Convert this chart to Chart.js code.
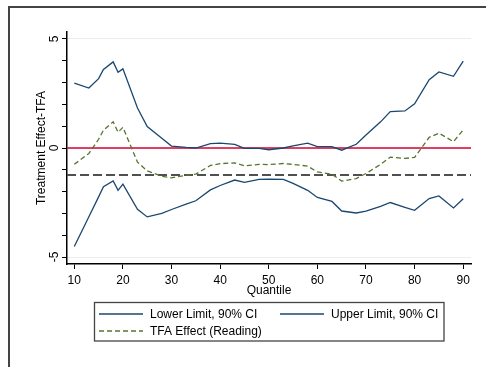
<!DOCTYPE html>
<html>
<head>
<meta charset="utf-8">
<script src="https://cdn.jsdelivr.net/npm/chart.js@4/dist/chart.umd.min.js"></script>
<style>
  html, body { margin: 0; padding: 0; background: #fff; overflow: hidden; }
  canvas { display: block; }
</style>
</head>
<body>
<canvas id="chart" width="486" height="367"></canvas>
<script>
// Data
const quantiles = [10, 13, 15, 16, 18, 19, 20, 23, 25, 28, 30, 33, 35, 38, 40, 43, 45, 48, 50, 53, 55, 58, 60, 63, 65, 68, 70, 73, 75, 78, 80, 83, 85, 88, 90];
const lowerLimit = [-4.52, -3.15, -2.24, -1.78, -1.51, -1.94, -1.66, -2.81, -3.16, -3.0, -2.82, -2.57, -2.42, -1.92, -1.72, -1.47, -1.58, -1.44, -1.43, -1.44, -1.62, -1.94, -2.27, -2.45, -2.89, -2.98, -2.9, -2.68, -2.5, -2.72, -2.86, -2.32, -2.2, -2.75, -2.33];
const upperLimit = [2.98, 2.75, 3.18, 3.6, 3.95, 3.47, 3.63, 1.83, 0.98, 0.45, 0.09, 0.03, 0.0, 0.2, 0.22, 0.17, -0.02, -0.02, -0.08, 0.0, 0.1, 0.22, 0.06, 0.06, -0.1, 0.17, 0.6, 1.2, 1.67, 1.7, 2.03, 3.13, 3.49, 3.29, 3.98];
const tfaEffect = [-0.75, -0.25, 0.4, 0.82, 1.2, 0.72, 0.95, -0.65, -1.05, -1.3, -1.37, -1.25, -1.2, -0.8, -0.72, -0.68, -0.82, -0.75, -0.76, -0.71, -0.75, -0.83, -1.1, -1.2, -1.52, -1.4, -1.17, -0.75, -0.42, -0.48, -0.43, 0.49, 0.68, 0.29, 0.83];
const zeroLine = 0;
const meanEffect = -1.24;
const seriesLabels = ["Lower Limit, 90% CI", "Upper Limit, 90% CI", "TFA Effect (Reading)"];
const xTicks = [10, 20, 30, 40, 50, 60, 70, 80, 90];
const yTicks = [-5, -4, -3, -2, -1, 0, 1, 2, 3, 4, 5];
const yTickLabels = [-5, 0, 5];

const xMin = 8.5, xMax = 91.6;
const yMin = -5.32, yMax = 5.32;

const navy = "#1a476f";
const green = "#55752f";
const font = { family: "'Liberation Sans', Arial, sans-serif", size: 12 };

function toPoints(values) {
  return quantiles.map((q, i) => ({ x: q, y: values[i] }));
}

// Stata-like frame (cropped at right and bottom) and legend box
const framePlugin = {
  id: "frame",
  beforeDraw(chart) {
    const ctx = chart.ctx;
    ctx.save();
    ctx.fillStyle = "#fff";
    ctx.fillRect(0, 0, chart.width, chart.height);
    ctx.strokeStyle = "#444";
    ctx.lineWidth = 2;
    ctx.beginPath();
    ctx.moveTo(9, chart.height);
    ctx.lineTo(9, 7);
    ctx.lineTo(chart.width, 7);
    ctx.stroke();
    ctx.restore();
  },
  afterDraw(chart) {
    const ctx = chart.ctx;
    const ds = chart.data.datasets;
    ctx.save();
    ctx.strokeStyle = "#444";
    ctx.lineWidth = 1.3;
    ctx.strokeRect(94.5, 302.5, 349.5, 38.5);
    const items = [
      { d: ds[0], x: 99, y: 314 },
      { d: ds[1], x: 280, y: 314 },
      { d: ds[2], x: 99, y: 331 },
    ];
    ctx.font = font.size + "px " + font.family;
    ctx.textBaseline = "middle";
    ctx.fillStyle = "#000";
    items.forEach((it) => {
      ctx.beginPath();
      ctx.setLineDash(it.d.borderDash || []);
      ctx.strokeStyle = it.d.borderColor;
      ctx.lineWidth = it.d.borderWidth;
      ctx.moveTo(it.x, it.y);
      ctx.lineTo(it.x + 44, it.y);
      ctx.stroke();
      ctx.setLineDash([]);
      ctx.fillText(it.d.label, it.x + 51, it.y + 0.5);
    });
    ctx.restore();
  },
};

new Chart(document.getElementById("chart"), {
  type: "line",
  data: {
    datasets: [
      { label: seriesLabels[0], data: toPoints(lowerLimit), borderColor: navy, borderWidth: 1.3 },
      { label: seriesLabels[1], data: toPoints(upperLimit), borderColor: navy, borderWidth: 1.3 },
      { label: seriesLabels[2], data: toPoints(tfaEffect), borderColor: green, borderWidth: 1.3, borderDash: [5, 3] },
      { label: "zero", data: [{ x: xMin, y: zeroLine }, { x: xMax, y: zeroLine }], borderColor: "#dc0032", borderWidth: 1.3 },
      { label: "mean", data: [{ x: xMin, y: meanEffect }, { x: xMax, y: meanEffect }], borderColor: "#505050", borderWidth: 2, borderDash: [9, 4] },
    ],
  },
  options: {
    responsive: false,
    animation: false,
    layout: { padding: { left: 0, top: 32, right: 15, bottom: 67 } },
    elements: { point: { radius: 0 }, line: { tension: 0 } },
    plugins: { legend: { display: false }, tooltip: { enabled: false } },
    scales: {
      x: {
        type: "linear",
        min: xMin,
        max: xMax,
        afterBuildTicks: (s) => { s.ticks = xTicks.map((v) => ({ value: v })); },
        afterFit: (s) => { s.height = 36; },
        grid: { drawOnChartArea: false, tickColor: "#000", tickLength: 5 },
        border: { color: "#000", width: 1.5 },
        ticks: { font: font, color: "#000", padding: 4, maxRotation: 0 },
        title: { display: true, text: "Quantile", font: font, color: "#000", padding: { top: 0, bottom: 2.3 } },
      },
      y: {
        min: yMin,
        max: yMax,
        afterBuildTicks: (s) => { s.ticks = yTicks.map((v) => ({ value: v })); },
        afterFit: (s) => { s.width = 67; },
        grid: {
          color: (c) => (c.tick && yTickLabels.includes(c.tick.value) ? "#e6eef0" : "rgba(0,0,0,0)"),
          tickColor: "#000",
          tickLength: 5,
        },
        border: { color: "#000", width: 1.5 },
        ticks: {
          font: font,
          color: "#000",
          padding: 2,
          minRotation: 90,
          maxRotation: 90,
          crossAlign: "center",
          callback: (v) => (yTickLabels.includes(v) ? String(v) : ""),
        },
        title: { display: true, text: "Treatment Effect-TFA", font: font, color: "#000", padding: { top: 34.8, bottom: 0 } },
      },
    },
  },
  plugins: [framePlugin],
});
</script>
</body>
</html>
